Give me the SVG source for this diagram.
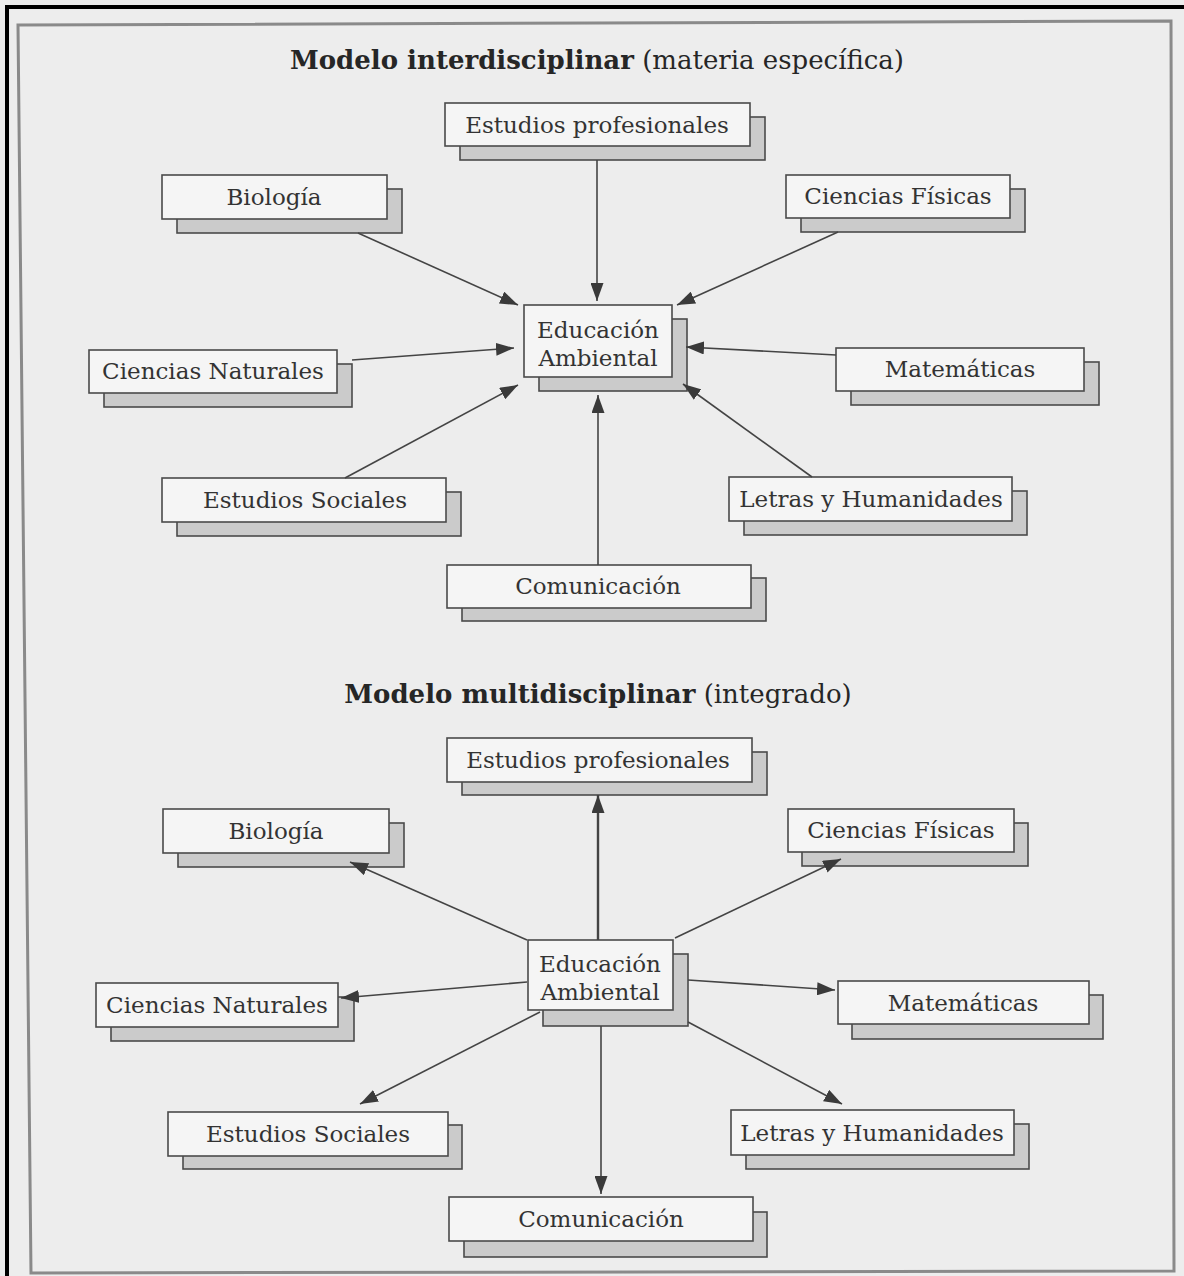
<svg xmlns="http://www.w3.org/2000/svg" width="1184" height="1276" viewBox="0 0 1184 1276">
<defs>
<style>
.bg{fill:#ededed}
.frame{fill:none;stroke:#8a8a8a;stroke-width:3}
.outer{fill:none;stroke:#000;stroke-width:4}
.box{fill:#f5f5f5;stroke:#4a4a4a;stroke-width:1.6}
.sh{fill:#cbcbcb;stroke:#4a4a4a;stroke-width:1.6}
.lbl{font-family:"DejaVu Serif","Liberation Serif",serif;font-size:23px;fill:#333;text-anchor:middle}
.ttl{font-family:"DejaVu Serif","Liberation Serif",serif;font-size:26px;fill:#262626}
.ttl .b{font-weight:bold}
.edge{fill:none;stroke:#444;stroke-width:1.6;marker-end:url(#ah)}
</style>
<marker id="ah" viewBox="0 0 18 13" refX="18" refY="6.5" markerWidth="18" markerHeight="13" markerUnits="userSpaceOnUse" orient="auto">
<path d="M0,0 L18,6.5 L0,13 Z" fill="#3a3a3a"/>
</marker>
</defs>
<rect class="bg" x="0" y="0" width="1184" height="1276"/>
<path class="outer" d="M7,1276 L7,7 L1184,7"/>
<path class="frame" d="M18,25 L1171,21 L1174,1271 L31,1273 Z"/>

<text class="ttl" x="597" y="69" text-anchor="middle"><tspan class="b">Modelo interdisciplinar</tspan> (materia específica)</text>
<text class="ttl" x="598" y="703" text-anchor="middle"><tspan class="b">Modelo multidisciplinar</tspan> (integrado)</text>

<g id="n-ep1"><rect class="sh" x="460" y="117" width="305" height="43"/><rect class="box" x="445" y="103" width="305" height="43"/><text class="lbl" x="597" y="133">Estudios profesionales</text></g>
<g id="n-bio1"><rect class="sh" x="177" y="189" width="225" height="44"/><rect class="box" x="162" y="175" width="225" height="44"/><text class="lbl" x="274" y="205">Biología</text></g>
<g id="n-cf1"><rect class="sh" x="801" y="189" width="224" height="43"/><rect class="box" x="786" y="175" width="224" height="43"/><text class="lbl" x="898" y="204">Ciencias Físicas</text></g>
<g id="n-ea1"><rect class="sh" x="539" y="319" width="148" height="72"/><rect class="box" x="524" y="305" width="148" height="72"/><text class="lbl" x="598" y="338">Educación</text><text class="lbl" x="598" y="366">Ambiental</text></g>
<g id="n-cn1"><rect class="sh" x="104" y="364" width="248" height="43"/><rect class="box" x="89" y="350" width="248" height="43"/><text class="lbl" x="213" y="379">Ciencias Naturales</text></g>
<g id="n-mat1"><rect class="sh" x="851" y="362" width="248" height="43"/><rect class="box" x="836" y="348" width="248" height="43"/><text class="lbl" x="960" y="377">Matemáticas</text></g>
<g id="n-es1"><rect class="sh" x="177" y="492" width="284" height="44"/><rect class="box" x="162" y="478" width="284" height="44"/><text class="lbl" x="305" y="508">Estudios Sociales</text></g>
<g id="n-lh1"><rect class="sh" x="744" y="491" width="283" height="44"/><rect class="box" x="729" y="477" width="283" height="44"/><text class="lbl" x="871" y="507">Letras y Humanidades</text></g>
<g id="n-com1"><rect class="sh" x="462" y="578" width="304" height="43"/><rect class="box" x="447" y="565" width="304" height="43"/><text class="lbl" x="598" y="594">Comunicación</text></g>

<g id="n-ep2"><rect class="sh" x="462" y="752" width="305" height="43"/><rect class="box" x="447" y="738" width="305" height="44"/><text class="lbl" x="598" y="768">Estudios profesionales</text></g>
<g id="n-bio2"><rect class="sh" x="178" y="823" width="226" height="44"/><rect class="box" x="163" y="809" width="226" height="44"/><text class="lbl" x="276" y="839">Biología</text></g>
<g id="n-cf2"><rect class="sh" x="802" y="823" width="226" height="43"/><rect class="box" x="788" y="809" width="226" height="43"/><text class="lbl" x="901" y="838">Ciencias Físicas</text></g>
<g id="n-ea2"><rect class="sh" x="543" y="954" width="145" height="72"/><rect class="box" x="528" y="940" width="145" height="70"/><text class="lbl" x="600" y="972">Educación</text><text class="lbl" x="600" y="1000">Ambiental</text></g>
<g id="n-cn2"><rect class="sh" x="111" y="997" width="243" height="44"/><rect class="box" x="96" y="983" width="242" height="44"/><text class="lbl" x="217" y="1013">Ciencias Naturales</text></g>
<g id="n-mat2"><rect class="sh" x="852" y="995" width="251" height="44"/><rect class="box" x="838" y="981" width="251" height="43"/><text class="lbl" x="963" y="1011">Matemáticas</text></g>
<g id="n-es2"><rect class="sh" x="183" y="1125" width="279" height="44"/><rect class="box" x="168" y="1112" width="280" height="44"/><text class="lbl" x="308" y="1142">Estudios Sociales</text></g>
<g id="n-lh2"><rect class="sh" x="746" y="1124" width="283" height="45"/><rect class="box" x="731" y="1110" width="283" height="45"/><text class="lbl" x="872" y="1141">Letras y Humanidades</text></g>
<g id="n-com2"><rect class="sh" x="464" y="1212" width="303" height="45"/><rect class="box" x="449" y="1197" width="304" height="44"/><text class="lbl" x="601" y="1227">Comunicación</text></g>

<g id="connectors">
<line class="edge" x1="358" y1="233" x2="518" y2="305"/>
<line class="edge" x1="597" y1="160" x2="597" y2="301"/>
<line class="edge" x1="838" y1="232" x2="677" y2="305"/>
<line class="edge" x1="352" y1="360" x2="514" y2="348"/>
<line class="edge" x1="836" y1="355" x2="686" y2="347"/>
<line class="edge" x1="345" y1="478" x2="518" y2="385"/>
<line class="edge" x1="812" y1="477" x2="683" y2="384"/>
<line class="edge" x1="598" y1="565" x2="598" y2="395"/>

<line class="edge" x1="598" y1="940" x2="598" y2="795" style="stroke-width:2.4"/>
<line class="edge" x1="527" y1="940" x2="350" y2="862"/>
<line class="edge" x1="675" y1="938" x2="841" y2="859"/>
<line class="edge" x1="527" y1="982" x2="341" y2="998"/>
<line class="edge" x1="688" y1="980" x2="835" y2="990"/>
<line class="edge" x1="540" y1="1012" x2="360" y2="1104"/>
<line class="edge" x1="688" y1="1022" x2="842" y2="1104"/>
<line class="edge" x1="601" y1="1026" x2="601" y2="1194"/>
</g>
</svg>
